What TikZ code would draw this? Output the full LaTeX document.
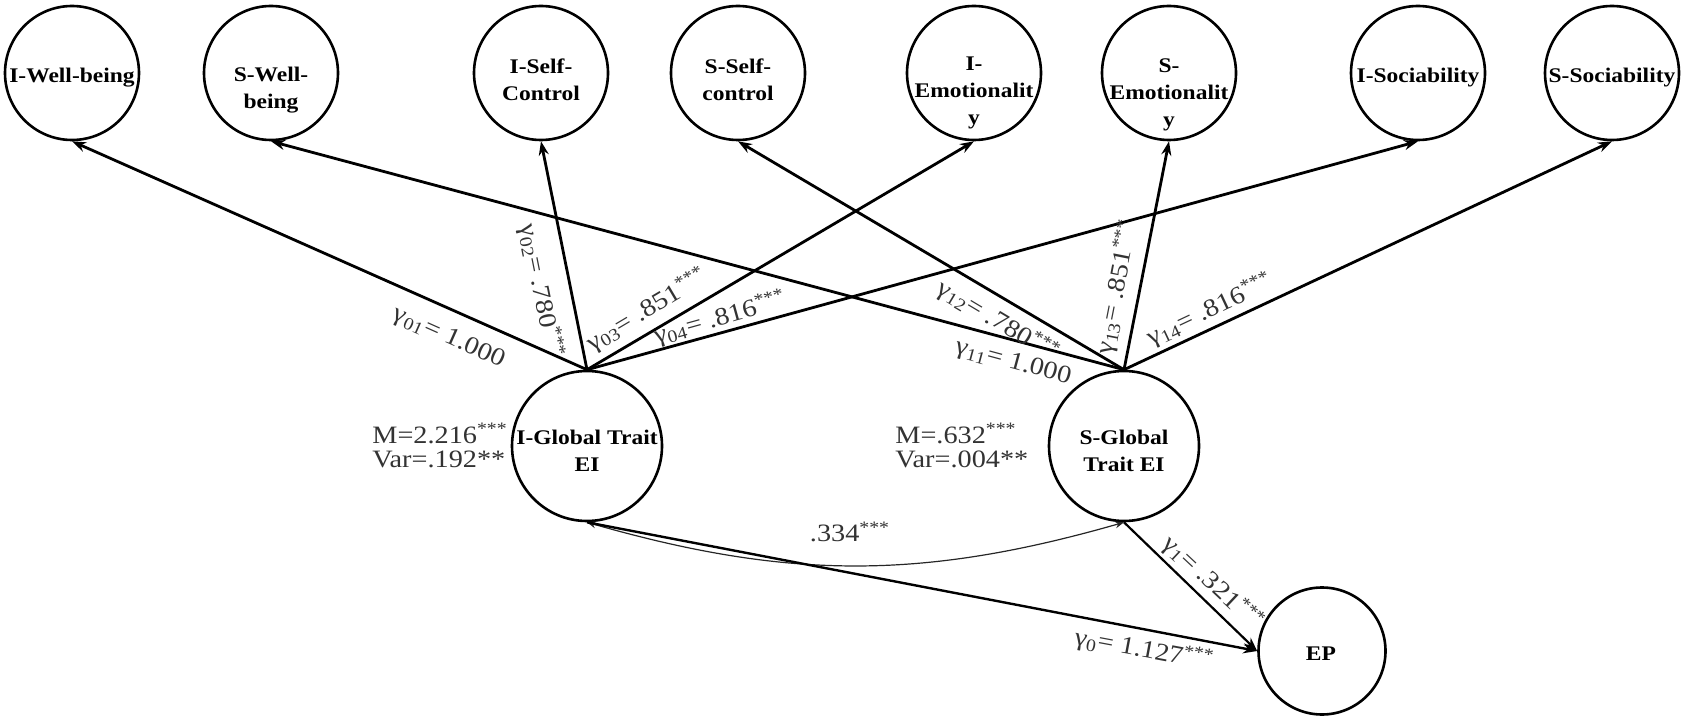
\documentclass[tikz,border=0pt]{standalone}
\usepackage{fontspec}
\setmainfont{Liberation Serif}[FakeStretch=1.13]
\usetikzlibrary{arrows.meta}
\begin{document}
\begin{tikzpicture}[x=0.5pt,y=0.5pt,
  lat/.style={circle,draw,line width=1.3pt,minimum size=67pt,inner sep=0pt},
  big/.style={circle,draw,line width=1.3pt,minimum size=75pt,inner sep=0pt},
  epc/.style={circle,draw,line width=1.3pt,minimum size=63.5pt,inner sep=0pt},
  nt/.style={font=\bfseries\fontsize{10.4}{13.5}\selectfont,align=center,inner sep=0pt},
  lb/.style={font=\fontsize{12.5}{13}\selectfont,text=black!80,inner sep=0pt},
  arr/.style={-{Stealth[length=7pt,width=5pt]},line width=1.4pt},
  arrmid/.style={-{Stealth[length=7pt,width=5pt]},line width=1.1pt},
  corr/.style={{Stealth[length=4.5pt,width=3.5pt]}-{Stealth[length=4.5pt,width=3.5pt]},line width=0.6pt,draw=black!85},
]
\useasboundingbox (0,0) rectangle (1687,-722);
% top latent circles
\node[lat] (IW) at (72,-73) {};
\node[lat] (SW) at (271,-73) {};
\node[lat] (ISC) at (541,-73) {};
\node[lat] (SSC) at (738,-73) {};
\node[lat] (IE) at (974,-73) {};
\node[lat] (SE) at (1169,-73) {};
\node[lat] (IS) at (1418,-73) {};
\node[lat] (SS) at (1612,-73) {};
% texts
\node[nt] (tIW) at (72,-78) {I-Well-being};
\node[nt] (tSW) at (271,-90) {S-Well-\\being};
\node[nt] (tISC) at (541,-80) {I-Self-\\Control};
\node[nt] (tSSC) at (738,-80) {S-Self-\\control};
\node[nt] (tIE) at (974,-93) {I-\\Emotionalit\\y};
\node[nt] (tSE) at (1169,-95) {S-\\Emotionalit\\y};
\node[nt] (tIS) at (1418,-78) {I-Sociability};
\node[nt] (tSS) at (1612,-78) {S-Sociability};
% global and EP
\node[big] (IG) at (587,-446) {};
\node[big] (SG) at (1124,-446) {};
\node[epc] (EP) at (1322,-651) {};
\node[nt] (tIG) at (587,-451) {I-Global Trait\\EI};
\node[nt] (tSG) at (1124,-451) {S-Global\\Trait EI};
\node[nt] (tEP) at (1321,-654) {EP};
% loadings
\draw[arr] (IG.north) -- (IW.south);
\draw[arr] (IG.north) -- (ISC.south);
\draw[arr] (IG.north) -- (IE.south);
\draw[arr] (IG.north) -- (IS.south);
\draw[arr] (SG.north) -- (SW.south);
\draw[arr] (SG.north) -- (SSC.south);
\draw[arr] (SG.north) -- (SE.south);
\draw[arr] (SG.north) -- (SS.south);
% bottom paths
\draw[corr] (IG.south) to[bend right=16] (SG.south);
\draw[arr,line width=1.2pt] (IG.south) -- (EP.west);
\draw[arrmid] (SG.south) -- (EP.west);
% labels
\node[lb,rotate=-24] (g01) at (449,-338) {γ\textsubscript{01}= 1.000};
\node[lb,rotate=-78.7] (g02) at (541,-291) {γ\textsubscript{02}= .780\textsuperscript{***}};
\node[lb,rotate=30.7] (g03) at (647,-310) {γ\textsubscript{03}= .851\textsuperscript{***}};
\node[lb,rotate=15.5] (g04) at (720,-318) {γ\textsubscript{04}= .816\textsuperscript{***}};
\node[lb,rotate=-30.8] (g12) at (998,-321) {γ\textsubscript{12}= .780\textsuperscript{***}};
\node[lb,rotate=-15.1] (g11) at (1013,-363) {γ\textsubscript{11}= 1.000};
\node[lb,rotate=78.9] (g13) at (1117,-287) {γ\textsubscript{13}= .851\textsuperscript{***}};
\node[lb,rotate=25.2] (g14) at (1210,-310) {γ\textsubscript{14}= .816\textsuperscript{***}};
\node[lb,rotate=-43.2] (g1) at (1213,-583) {γ\textsubscript{1}= .321\textsuperscript{***}};
\node[lb,rotate=-10.6] (g0) at (1144,-650) {γ\textsubscript{0}= 1.127\textsuperscript{***}};
\node[lb] (r334) at (850,-532) {.334\textsuperscript{***}};
% means and variances
\node[lb,anchor=base west] (mI) at (372,-443) {M=2.216\textsuperscript{***}};
\node[lb,anchor=base west] (vI) at (372,-467) {Var=.192**};
\node[lb,anchor=base west] (mS) at (895,-443) {M=.632\textsuperscript{***}};
\node[lb,anchor=base west] (vS) at (895,-467) {Var=.004**};
\end{tikzpicture}
\end{document}
